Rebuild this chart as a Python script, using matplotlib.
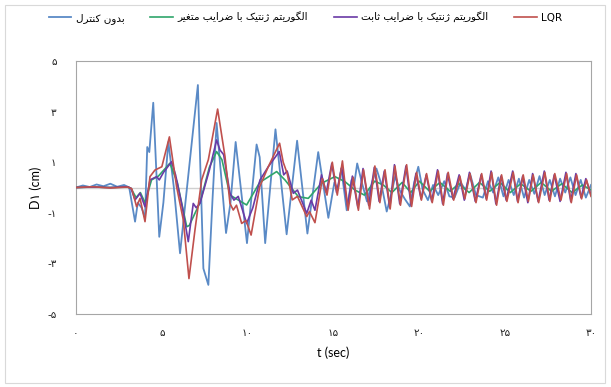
import matplotlib
matplotlib.use("Agg")
import matplotlib.pyplot as plt
from matplotlib.patches import Rectangle

# ---------------- data ----------------
t_blue = [0, 0.4, 0.8, 1.2, 1.6, 2.0, 2.4, 2.8, 3.1, 3.44, 3.6, 3.82, 4.02, 4.15, 4.27, 4.5,
          4.85, 5.09, 5.38, 5.7, 6.06, 7.1, 7.42, 7.71, 7.95, 8.19, 8.74, 9.0, 9.3, 9.96,
          10.52, 10.7, 11.02, 11.62, 12.27, 12.88, 13.48, 14.11, 14.7, 15.05, 15.25, 15.45,
          15.77, 16.05, 16.2, 16.38, 16.65, 16.95, 17.2, 17.5, 17.8, 18.1, 18.35, 18.6,
          18.85, 19.15, 19.45, 19.7, 19.94, 20.2, 20.5, 20.8, 21.1, 21.45, 21.75, 22.05,
          22.4, 22.7, 22.95, 23.3, 23.7, 24.0, 24.3, 24.6, 24.9, 25.2, 25.5, 25.8, 26.1,
          26.4, 26.7, 27.0, 27.3, 27.6, 27.9, 28.2, 28.5, 28.8, 29.1, 29.4, 29.7, 30.0]
v_blue = [0, 0.08, 0.02, 0.12, 0.05, 0.15, 0.03, 0.1, 0.0, -1.35, -0.6, -0.8, -1.2, 1.6, 1.4, 3.35,
          -1.95, -0.6, 1.8, 0.0, -2.6, 4.05, -3.2, -3.85, -0.5, 2.55, -1.8, -0.6, 1.8, -2.2,
          1.7, 1.2, -2.2, 2.3, -1.85, 1.85, -1.82, 1.4, -1.2, 0.2, -0.1, 0.75,
          -0.9, 0.3, 0.1, 0.95, 0.2, -0.55, 0.1, 0.75, 0.1, -0.95, -0.3, 0.45,
          -0.1, -0.45, -0.75, 0.2, 0.82, -0.1, -0.5, 0.1, -0.3, 0.25, -0.35, -0.4,
          0.2, -0.1, 0.55, -0.3, -0.4, 0.25, -0.2, 0.4, -0.35, 0.3, -0.3, 0.35, -0.4,
          0.3, -0.25, 0.45, -0.3, 0.3, -0.35, 0.35, -0.2, 0.4, -0.3, 0.3, -0.4, 0.1]

t_green = [0, 1, 2, 3.0, 3.2, 3.5, 3.75, 4.02, 4.4, 4.8, 5.47, 5.9, 6.45, 6.6, 7.22, 7.77,
           8.19, 8.5, 8.97, 9.94, 10.7, 11.69, 12.17, 12.95, 13.53, 14.31, 15.08, 15.67,
           16.25, 16.8, 17.4, 17.9, 18.4, 19.0, 19.5, 20.0, 20.6, 21.2, 21.8, 22.3, 22.9,
           23.5, 24.1, 24.7, 25.3, 25.9, 26.5, 27.1, 27.7, 28.3, 28.9, 29.5, 30.0]
v_green = [0, 0.02, 0.0, 0.02, -0.03, -0.4, -0.2, -0.6, 0.3, 0.45, 0.96, 0.2, -1.55, -1.5, -0.6, 0.8,
           1.42, 1.1, -0.3, -0.69, 0.2, 0.63, 0.3, -0.36, -0.43, 0.17, 0.43, 0.23,
           -0.1, -0.3, 0.25, 0.1, -0.2, 0.2, -0.2, 0.25, -0.15, 0.2, -0.15, 0.15, -0.2,
           0.2, -0.15, 0.2, -0.2, 0.15, -0.15, 0.2, -0.15, 0.15, -0.2, 0.1, -0.1]

t_purple = [0, 1, 2, 3.0, 3.2, 3.44, 3.73, 4.02, 4.31, 4.7, 4.85, 5.1, 5.57, 5.8, 6.2, 6.54,
            6.83, 7.0, 7.22, 7.77, 8.19, 8.39, 8.6, 8.97, 9.2, 9.45, 9.94, 10.3, 10.72, 11.2,
            11.84, 12.1, 12.3, 12.66, 12.9, 13.44, 13.7, 13.92, 14.3, 14.58, 14.9, 15.18,
            15.48, 15.82, 16.1, 16.42, 16.72, 17.05, 17.38, 17.66, 17.96, 18.28, 18.55,
            18.86, 19.22, 19.52, 19.8, 20.1, 20.4, 20.72, 21.06, 21.36, 21.64, 21.96, 22.32,
            22.62, 22.92, 23.26, 23.6, 23.9, 24.18, 24.46, 24.76, 25.06, 25.44, 25.72, 26.02,
            26.32, 26.6, 26.92, 27.28, 27.56, 27.86, 28.2, 28.54, 28.82, 29.12, 29.42, 29.7, 30.0]
v_purple = [0, 0.02, 0.0, 0.03, -0.03, -0.49, -0.23, -0.76, 0.3, 0.43, 0.3, 0.6, 1.02, 0.5, -0.8, -2.14,
            -0.63, -0.8, -0.63, 0.69, 1.88, 1.48, 1.3, -0.23, -0.5, -0.35, -1.42, -0.8, 0.3, 0.82,
            1.42, 0.5, 0.65, -0.23, -0.1, -1.02, -0.5, -0.9, 0.5, -0.2, 0.95, -0.2,
            0.8, -0.75, 0.45, -0.8, 0.75, -0.7, 0.8, -0.55, 0.65, -0.8, 0.9,
            -0.65, 0.85, -0.7, 0.55, -0.45, 0.5, -0.55, 0.7, -0.65, 0.55, -0.45, 0.5,
            -0.5, 0.6, -0.55, 0.5, -0.45, 0.65, -0.65, 0.45, -0.5, 0.65, -0.55, 0.45,
            -0.6, 0.55, -0.55, 0.65, -0.5, 0.5, -0.55, 0.6, -0.55, 0.55, -0.4, 0.35, -0.3]

t_red = [0, 1, 2, 3.0, 3.25, 3.53, 3.73, 4.02, 4.31, 4.6, 5.0, 5.44, 5.86, 6.25, 6.58, 6.93,
         7.32, 7.71, 8.25, 8.68, 8.97, 9.16, 9.35, 9.65, 9.9, 10.2, 10.7, 11.2, 11.86, 12.07,
         12.3, 12.6, 12.9, 13.44, 13.6, 13.92, 14.35, 14.62, 14.93, 15.22, 15.52, 15.85,
         16.15, 16.45, 16.75, 17.1, 17.41, 17.7, 18.0, 18.3, 18.58, 18.9, 19.26, 19.55,
         19.84, 20.12, 20.42, 20.75, 21.1, 21.4, 21.68, 22.0, 22.36, 22.65, 22.95, 23.3,
         23.63, 23.92, 24.21, 24.5, 24.79, 25.1, 25.47, 25.75, 26.05, 26.35, 26.63, 26.95,
         27.31, 27.6, 27.89, 28.25, 28.58, 28.85, 29.16, 29.45, 29.74, 30.0]
v_red = [0, 0.03, -0.02, 0.02, -0.05, -0.76, -0.43, -1.35, 0.43, 0.69, 0.82, 2.0, 0.03, -1.28, -3.6, -1.68,
         0.3, 1.1, 3.1, 1.22, -0.63, -0.89, -0.7, -1.42, -1.3, -1.88, 0.03, 0.82, 1.75, 1.0,
         0.56, -0.49, -0.35, -1.15, -0.95, -1.39, 0.35, -0.3, 1.0, -0.3, 1.05, -0.9,
         0.4, -0.9, 0.7, -0.85, 0.85, -0.6, 0.7, -0.85, 0.85, -0.7, 0.9, -0.75,
         0.6, -0.5, 0.55, -0.6, 0.65, -0.7, 0.6, -0.5, 0.45, -0.45, 0.55, -0.6,
         0.55, -0.5, 0.6, -0.7, 0.5, -0.55, 0.6, -0.6, 0.5, -0.55, 0.5, -0.6,
         0.6, -0.55, 0.55, -0.5, 0.55, -0.6, 0.5, -0.45, 0.3, -0.35]

series_labels = ["بدون کنترل", "الگوریتم ژنتیک با ضرایب متغیر",
                 "الگوریتم ژنتیک با ضرایب ثابت", "LQR"]
x_ticks = [0, 5, 10, 15, 20, 25, 30]
x_tick_labels = ["۰", "۵", "۱۰", "۱۵", "۲۰", "۲۵", "۳۰"]
y_ticks = [5, 3, 1, -1, -3, -5]
y_tick_labels = ["۵", "۳", "۱", "-۱", "-۳", "-۵"]

# ---------------- Persian shaping (matplotlib has no text shaping) ----------------
FORMS = {  # isolated, final, initial, medial
    'ا': ('\uFE8D', '\uFE8E', None, None),
    'ب': ('\uFE8F', '\uFE90', '\uFE91', '\uFE92'),
    'ت': ('\uFE95', '\uFE96', '\uFE97', '\uFE98'),
    'ث': ('\uFE99', '\uFE9A', '\uFE9B', '\uFE9C'),
    'د': ('\uFEA9', '\uFEAA', None, None),
    'ر': ('\uFEAD', '\uFEAE', None, None),
    'ژ': ('\uFB8A', '\uFB8B', None, None),
    'ض': ('\uFEBD', '\uFEBE', '\uFEBF', '\uFEC0'),
    'غ': ('\uFECD', '\uFECE', '\uFECF', '\uFED0'),
    'ک': ('\uFB8E', '\uFB8F', '\uFB90', '\uFB91'),
    'گ': ('\uFB92', '\uFB93', '\uFB94', '\uFB95'),
    'ل': ('\uFEDD', '\uFEDE', '\uFEDF', '\uFEE0'),
    'م': ('\uFEE1', '\uFEE2', '\uFEE3', '\uFEE4'),
    'ن': ('\uFEE5', '\uFEE6', '\uFEE7', '\uFEE8'),
    'و': ('\uFEED', '\uFEEE', None, None),
    'ی': ('\uFBFC', '\uFBFD', '\uFBFE', '\uFBFF'),
}


def shape(s):
    if not any(c in FORMS for c in s):
        return s
    out = []
    for i, c in enumerate(s):
        if c not in FORMS:
            out.append(c)
            continue
        prev = s[i - 1] if i > 0 else ''
        nxt = s[i + 1] if i + 1 < len(s) else ''
        jp = prev in FORMS and FORMS[prev][2] is not None
        jn = nxt in FORMS and FORMS[c][2] is not None
        iso, fin, ini, med = FORMS[c]
        if jp and jn:
            out.append(med)
        elif jp:
            out.append(fin)
        elif jn:
            out.append(ini)
        else:
            out.append(iso)
    return ''.join(reversed(out))


# ---------------- figure ----------------
W, H = 611, 387
fig = plt.figure(figsize=(W / 100, H / 100), dpi=100)
fig.patch.set_facecolor('white')
fig.add_artist(Rectangle((5 / W, 4 / H), 600 / W, 378 / H, transform=fig.transFigure,
                         fill=False, edgecolor='#d9d9d9', linewidth=0.8))

ax = fig.add_axes([76 / W, (H - 314) / H, (591 - 76) / W, (314 - 61) / H])
ax.set_xlim(0, 30)
ax.set_ylim(-5, 5)

colors = ['#5a8ac6', '#2fa56b', '#6a3aa6', '#c0504d']
ax.axhline(0, color='#d0d0d0', lw=1.0, zorder=1)
ax.plot(t_blue, v_blue, color=colors[0], lw=1.3, label=shape(series_labels[0]), zorder=2)
ax.plot(t_green, v_green, color=colors[1], lw=1.2, label=shape(series_labels[1]), zorder=3)
ax.plot(t_purple, v_purple, color=colors[2], lw=1.2, label=shape(series_labels[2]), zorder=4)
ax.plot(t_red, v_red, color=colors[3], lw=1.2, label=shape(series_labels[3]), zorder=5)

ax.set_xticks(x_ticks)
ax.set_xticklabels(x_tick_labels, fontfamily='DejaVu Sans', fontsize=7.5)
ax.set_yticks(y_ticks)
ax.set_yticklabels(y_tick_labels, fontfamily='DejaVu Sans', fontsize=7.5)
ax.tick_params(length=0, pad=10, colors='#222222')
ax.tick_params(axis='y', pad=14)
for sp in ax.spines.values():
    sp.set_color('#a6a6a6')
    sp.set_linewidth(0.8)

ax.set_xlabel('t (sec)', fontfamily=['Lato', 'DejaVu Sans'], fontsize=9, labelpad=6)
ax.set_ylabel('D۱ (cm)', fontfamily=['Lato', 'DejaVu Sans'], fontsize=9, labelpad=4)

fig.legend(loc='center', bbox_to_anchor=(0.5, 1 - 18 / H), ncol=4, frameon=False,
           prop={'family': 'DejaVu Sans', 'size': 7.5}, handlelength=2.2,
           columnspacing=2.5, handletextpad=0.4)

fig.savefig('out.png', dpi=100)
